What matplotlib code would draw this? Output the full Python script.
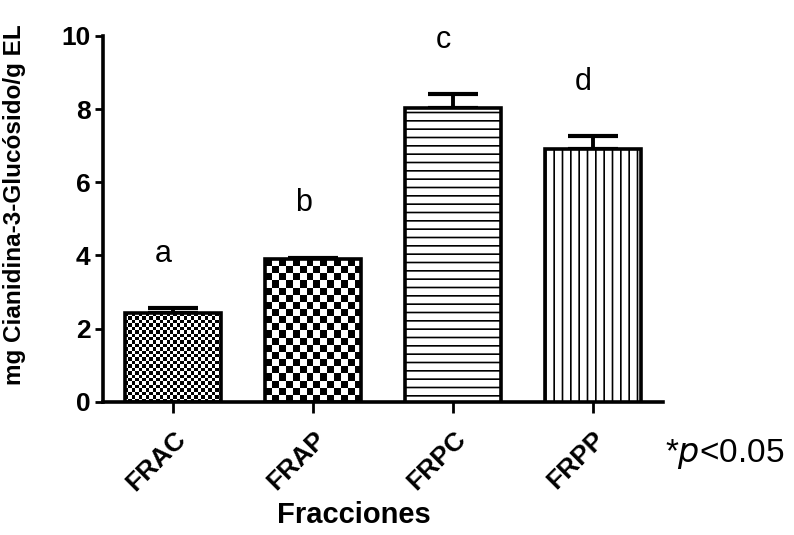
import numpy as np
import matplotlib
matplotlib.use("Agg")
from matplotlib import pyplot as plt
from matplotlib.transforms import ScaledTranslation

fracciones = ["FRAC", "FRAP", "FRPC", "FRPP"]
medias = [2.42, 3.90, 8.02, 6.90]
errores = [0.13, 0.03, 0.38, 0.35]
letras = ["a", "b", "c", "d"]

plt.rcParams["font.family"] = ["Liberation Sans", "DejaVu Sans"]
plt.rcParams["hatch.linewidth"] = 1.2

fig = plt.figure(figsize=(7.94, 5.35), dpi=100)
ax = fig.add_axes([0.130, 0.249, 0.705, 0.684])

x = np.arange(len(fracciones))
ancho = 0.69
hatches = [None, None, "--", "||"]
barras = ax.bar(x, medias, width=ancho, color="white", edgecolor="black",
                linewidth=2.6, zorder=3)
for b, h in zip(barras, hatches):
    if h:
        b.set_hatch(h)

ax.errorbar(x, medias, yerr=[np.zeros(len(medias)), errores], fmt="none",
            ecolor="black", elinewidth=2.8, capsize=18, capthick=3.0, zorder=2)

# checkerboard fills: FRAC fine, FRAP coarse (pixels per square)
celdas = [3.4, 7.0]
for i, c in enumerate(celdas):
    b = barras[i]
    b.set_facecolor("none")
    w, hgt = b.get_width(), b.get_height()
    nx = int(round(w * 140 / c))
    ny = int(round(hgt * 36.6 / c))
    tablero = (np.add.outer(np.arange(ny), np.arange(nx)) % 2).astype(float)
    im = ax.imshow(tablero, cmap="gray", vmin=0, vmax=1, interpolation="nearest",
                   extent=(b.get_x(), b.get_x() + w, 0, hgt), aspect="auto",
                   zorder=2.5)
    im.set_clip_path(b)

for xi, m, e, l in zip(x, medias, errores, letras):
    ax.text(xi - 0.07, m + e + 1.5, l, ha="center", va="center", fontsize=22)

ax.set_xlim(-0.5, 3.5)
ax.set_ylim(0, 10)
ax.set_yticks([0, 2, 4, 6, 8, 10])
ax.set_xticks(x)
ax.set_xticklabels(fracciones, rotation=45, ha="right", rotation_mode="anchor",
                   fontweight="bold", fontsize=19)
desplaza = ScaledTranslation(1 / 100, 0, fig.dpi_scale_trans)
for lab in ax.get_xticklabels():
    lab.set_transform(lab.get_transform() + desplaza)
for lab in ax.get_yticklabels():
    lab.set_fontweight("bold")
    lab.set_fontsize(19)

for s in ["top", "right"]:
    ax.spines[s].set_visible(False)
for s in ["left", "bottom"]:
    ax.spines[s].set_linewidth(2.6)
ax.tick_params(axis="y", direction="out", length=6, width=2, pad=3)
ax.tick_params(axis="x", direction="out", length=8, width=2, pad=10)

ax.set_ylabel("mg Cianidina-3-Glucósido/g EL", fontsize=17.5, fontweight="bold")
ax.yaxis.set_label_coords(-0.138, 0.538)
ax.set_xlabel("Fracciones", fontsize=21, fontweight="bold")
ax.xaxis.set_label_coords(0.448, -0.272)

fig.text(0.838, 0.152, "*$\\it{p}$<0.05", fontsize=24, ha="left", va="center")

fig.savefig("out.png", dpi=100)
